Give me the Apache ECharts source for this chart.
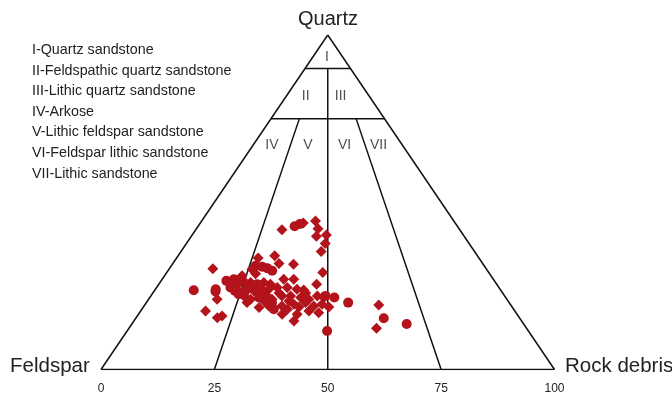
<!DOCTYPE html>
<html>
<head>
<meta charset="utf-8">
<script src="https://cdn.jsdelivr.net/npm/echarts@6/dist/echarts.min.js"></script>
<style>
  html, body { margin: 0; padding: 0; background: #fff; }
  #chart { width: 672px; height: 395px; }
</style>
</head>
<body>
<div id="chart"></div>
<script>
// ---- Data (quartz %, rock debris %; feldspar = 100 - Q - R) ----
const axisTicks = [0, 25, 50, 75, 100];
const vertexNames = ['Quartz', 'Feldspar', 'Rock debris'];
const legendLines = [
  'I-Quartz sandstone',
  'II-Feldspathic quartz sandstone',
  'III-Lithic quartz sandstone',
  'IV-Arkose',
  'V-Lithic feldspar sandstone',
  'VI-Feldspar lithic sandstone',
  'VII-Lithic sandstone'
];
const regionNames = ['I', 'II', 'III', 'IV', 'V', 'VI', 'VII'];
// label anchor of each region as [quartz %, rock debris %]
const regionAnchors = [[93.3, 3.2], [81.7, 4.3], [81.7, 12.0], [67.2, 4.1], [67.2, 12.0], [67.2, 20.1], [67.2, 27.6]];

// classification boundaries, each as two compositions [quartz %, rock debris %]
const boundaries = [
  [[0, 0], [100, 0]],
  [[100, 0], [0, 100]],
  [[0, 0], [0, 100]],
  [[90, 0], [90, 10]],
  [[75, 0], [75, 25]],
  [[90, 5], [0, 50]],
  [[75, 6.25], [0, 25]],
  [[75, 18.75], [0, 75]]
];

const diamondSamples = [
  [44.4,25.1],[43.8,22.7],[41.8,19.0],[42.1,26.8],[40.2,29.6],[39.8,27.6],[37.7,30.6],[35.3,30.9],
  [33.3,18.0],[34.0,21.3],[31.7,23.4],[31.5,26.7],[30.1,9.6],[30.0,18.3],[29.0,34.4],[26.5,18.2],
  [26.0,20.0],[26.0,22.9],[25.5,24.6],[27.0,26.8],[27.0,29.0],[25.5,34.8],[24.0,18.0],[23.5,22.0],
  [24.0,25.0],[24.5,26.6],[24.5,28.8],[24.0,31.2],[21.5,21.1],[21.0,22.5],[22.0,25.6],[21.0,27.2],
  [22.0,28.9],[22.0,30.8],[21.5,33.3],[21.0,35.3],[22.0,36.7],[21.5,38.4],[20.0,22.2],[19.0,30.4],
  [19.5,32.8],[20.0,35.1],[19.0,37.4],[19.5,39.0],[18.5,25.6],[19.0,27.5],[18.0,32.1],[16.5,35.0],
  [17.5,37.1],[17.0,39.5],[14.5,35.3],[21.0,15.1],[16.0,18.7],[15.5,17.9],[17.5,14.3],[19.3,51.6],
  [12.3,54.6],[18.7,40.9],[16.5,31.7],[23.8,32.8],[28.0,17.1],[28.6,19.8],[22.9,27.8],[20.5,31.2],
  [18.7,34.3],[22.9,33.7],[20.5,25.7],[25.0,20.1]
];
const circleSamples = [
  [42.8,21.3],[43.5,22.1],[31.0,18.6],[30.7,20.2],[30.3,21.5],[29.5,23.0],[26.5,14.4],[27.0,15.8],
  [26.0,17.4],[25.5,21.7],[23.7,8.6],[23.3,13.6],[24.5,16.3],[24.0,20.2],[23.5,23.8],[21.5,24.1],
  [20.0,27.7],[18.0,29.1],[24.0,13.3],[21.5,40.7],[20.0,44.5],[15.3,54.7],[13.6,60.6],[11.5,44.1],
  [22.5,19.1],[22.0,38.5],[23.5,17.8],[22.6,20.2]
];

// ---- ternary -> plot coordinates (x along base, y = quartz) ----
const toXY = (c) => [c[1] + c[0] / 2, c[0]];

const RED = '#b3131b';
const FONT = '"Liberation Sans", Arial, sans-serif';

const series = [];
boundaries.forEach((seg) => {
  series.push({
    type: 'line', data: seg.map(toXY), symbol: 'none', silent: true,
    lineStyle: { color: '#111', width: 1.5 }, z: 2, animation: false
  });
});
series.push({
  type: 'scatter', data: regionAnchors.map((a, i) => ({ value: toXY(a), name: regionNames[i] })),
  symbolSize: 1, itemStyle: { color: 'rgba(0,0,0,0)' }, silent: true, z: 3,
  label: { show: true, position: 'inside', formatter: '{b}', color: '#222', fontSize: 14, fontFamily: FONT }
});
series.push({
  type: 'scatter', data: diamondSamples.map(toXY), symbol: 'diamond', symbolSize: 11,
  itemStyle: { color: RED, opacity: 1 }, z: 5
});
series.push({
  type: 'scatter', data: circleSamples.map(toXY), symbol: 'circle', symbolSize: 10,
  itemStyle: { color: RED, opacity: 1 }, z: 5
});

const legendGraphics = legendLines.map((t, i) => ({
  type: 'text', left: 32, top: 43 + i * 20.6,
  style: { text: t, fill: '#222', font: '14.3px ' + FONT }
}));

const chart = echarts.init(document.getElementById('chart'), null, { renderer: 'canvas' });
chart.setOption({
  animation: false,
  backgroundColor: '#fff',
  grid: { left: 101, right: 117.5, top: 35, bottom: 25.5, containLabel: false },
  xAxis: {
    type: 'value', min: axisTicks[0], max: axisTicks[axisTicks.length - 1], interval: 25,
    axisLine: { show: false }, axisTick: { show: false }, splitLine: { show: false },
    axisLabel: { color: '#222', fontSize: 12, fontFamily: FONT, margin: 13 }
  },
  yAxis: { type: 'value', min: 0, max: 100, show: false },
  graphic: [
    { type: 'text', left: 298, top: 9, style: { text: vertexNames[0], fill: '#222', font: '20px ' + FONT } },
    { type: 'text', left: 10, top: 356, style: { text: vertexNames[1], fill: '#222', font: '20.5px ' + FONT } },
    { type: 'text', left: 565, top: 356, style: { text: vertexNames[2], fill: '#222', font: '20.5px ' + FONT } }
  ].concat(legendGraphics),
  series: series
});
</script>
</body>
</html>
